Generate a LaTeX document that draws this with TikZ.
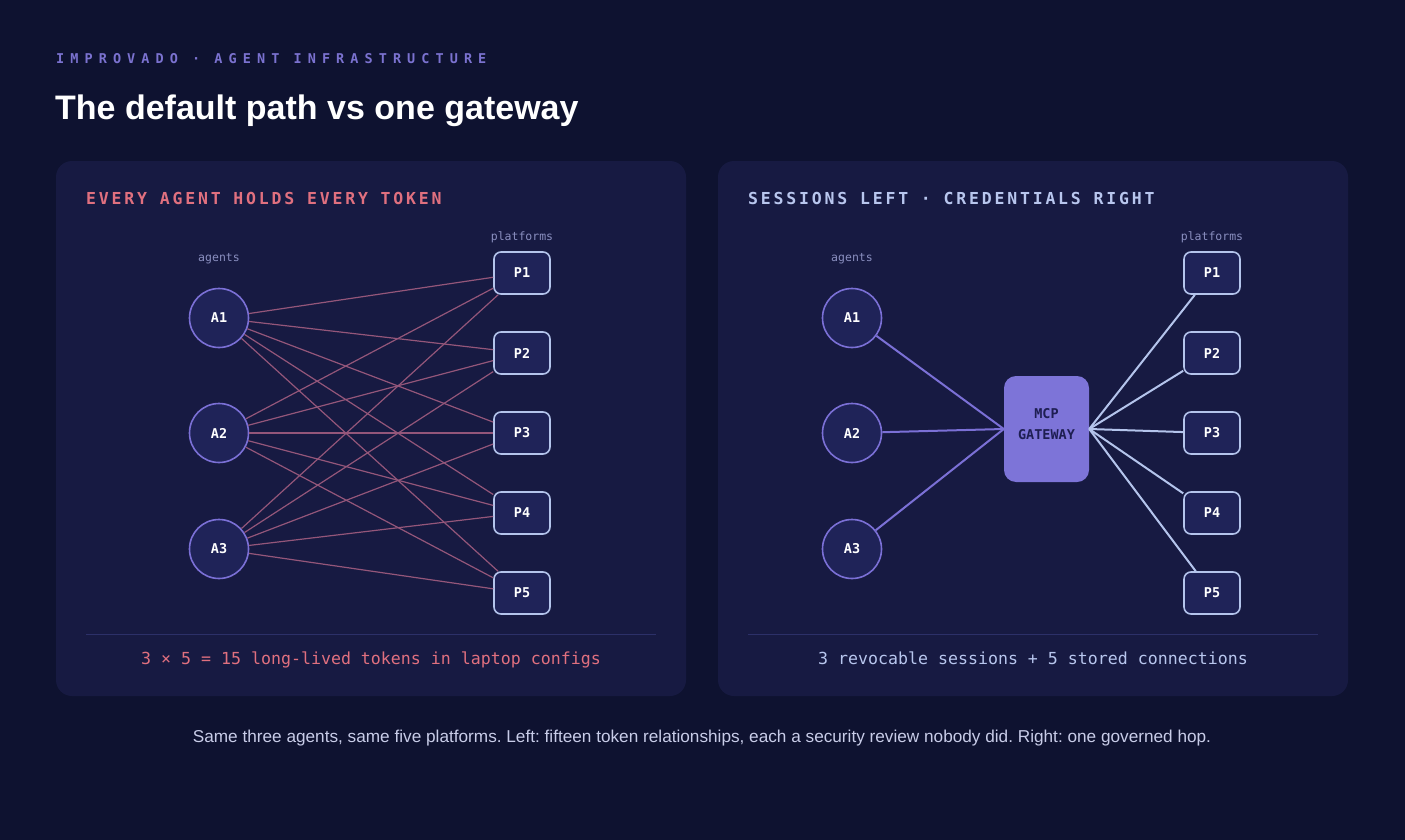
\documentclass[tikz,border=0pt]{standalone}
\usepackage{fontspec}
\setmainfont{Liberation Sans}
\newfontfamily\monofont{DejaVu Sans Mono}
\newfontfamily\headfont[LetterSpace=45]{DejaVu Sans Mono}
\newfontfamily\panelfont[LetterSpace=17]{DejaVu Sans Mono}

\definecolor{pagebg}{HTML}{0E1230}
\definecolor{panelbg}{HTML}{171A42}
\definecolor{nodefill}{HTML}{1F2358}
\definecolor{agentline}{HTML}{7B70D6}
\definecolor{boxline}{HTML}{B4C4EC}
\definecolor{tokenline}{HTML}{94567A}
\definecolor{warnpink}{HTML}{E0707F}
\definecolor{paleblue}{HTML}{B8C6EE}
\definecolor{headpurple}{HTML}{7B72D0}
\definecolor{smallgray}{HTML}{8A8FC0}
\definecolor{sepline}{HTML}{2C3068}
\definecolor{gatefill}{HTML}{7D74D8}
\definecolor{gatetext}{HTML}{1E1E52}
\definecolor{captext}{HTML}{C8CCE8}

\begin{document}
\frenchspacing
\begin{tikzpicture}[x=1pt,y=-1pt]
	\tikzstyle{agent}=[circle, draw=agentline, fill=nodefill, line width=1.6pt, minimum size=59pt, inner sep=0pt, text=white, font=\monofont\bfseries\fontsize{13.5}{16}\selectfont]
	\tikzstyle{platform}=[rectangle, rounded corners=7pt, draw=boxline, fill=nodefill, line width=1.6pt, minimum width=56pt, minimum height=42pt, inner sep=0pt, text=white, font=\monofont\bfseries\fontsize{13.5}{16}\selectfont]
	\tikzstyle{small}=[text=smallgray, font=\monofont\fontsize{11.5}{14}\selectfont]
	\tikzstyle{token}=[draw=tokenline, line width=1.2pt]
	\tikzstyle{session}=[draw=agentline, line width=2pt]
	\tikzstyle{stored}=[draw=boxline, line width=2pt]
	\useasboundingbox (0,0) rectangle (1405,840);
	\fill[pagebg] (0,0) rectangle (1405,840);
	% headings
	\node (kicker) [anchor=base west, inner sep=0pt, text=headpurple, font=\headfont\bfseries\fontsize{13.5}{16}\selectfont] at (56,64) {IMPROVADO · AGENT INFRASTRUCTURE};
	\node (title) [anchor=base west, inner sep=0pt, text=white, font=\bfseries\fontsize{34}{40}\selectfont] at (55,120) {The default path vs one gateway};
	% panels
	\fill[panelbg, rounded corners=16pt] (56,161) rectangle (686,696);
	\fill[panelbg, rounded corners=16pt] (718,161) rectangle (1348,696);
	\draw[sepline, line width=1pt] (86,634) -- (656,634);
	\draw[sepline, line width=1pt] (748,634) -- (1318,634);
	\node (lefthead) [anchor=base west, inner sep=0pt, text=warnpink, font=\panelfont\bfseries\fontsize{16.5}{20}\selectfont] at (86,204) {EVERY AGENT HOLDS EVERY TOKEN};
	\node (righthead) [anchor=base west, inner sep=0pt, text=paleblue, font=\panelfont\bfseries\fontsize{16.5}{20}\selectfont] at (748,204) {SESSIONS LEFT · CREDENTIALS RIGHT};

	% left: every agent holds every token
	\node (lagents) [small, anchor=base] at (219,261) {agents};
	\node (lplatforms) [small, anchor=base] at (522,240) {platforms};
	\draw (219,318) node (la1) [agent] {A1};
	\draw (219,433) node (la2) [agent] {A2};
	\draw (219,549) node (la3) [agent] {A3};
	\draw (522,273) node (lp1) [platform] {P1};
	\draw (522,353) node (lp2) [platform] {P2};
	\draw (522,433) node (lp3) [platform] {P3};
	\draw (522,513) node (lp4) [platform] {P4};
	\draw (522,593) node (lp5) [platform] {P5};
	\draw[token] (la1) -- (lp1);
	\draw[token] (la1) -- (lp2);
	\draw[token] (la1) -- (lp3);
	\draw[token] (la1) -- (lp4);
	\draw[token] (la1) -- (lp5);
	\draw[token] (la2) -- (lp1);
	\draw[token] (la2) -- (lp2);
	\draw[token] (la2) -- (lp3);
	\draw[token] (la2) -- (lp4);
	\draw[token] (la2) -- (lp5);
	\draw[token] (la3) -- (lp1);
	\draw[token] (la3) -- (lp2);
	\draw[token] (la3) -- (lp3);
	\draw[token] (la3) -- (lp4);
	\draw[token] (la3) -- (lp5);
	\node (lfoot) [anchor=base, inner sep=0pt, text=warnpink, font=\monofont\fontsize{16.6}{20}\selectfont] at (371,664) {3 × 5 = 15 long-lived tokens in laptop configs};

	% right: one gateway
	\node (ragents) [small, anchor=base] at (852,261) {agents};
	\node (rplatforms) [small, anchor=base] at (1212,240) {platforms};
	\draw (852,318) node (ra1) [agent] {A1};
	\draw (852,433) node (ra2) [agent] {A2};
	\draw (852,549) node (ra3) [agent] {A3};
	\draw (1212,273) node (rp1) [platform] {P1};
	\draw (1212,353) node (rp2) [platform] {P2};
	\draw (1212,433) node (rp3) [platform] {P3};
	\draw (1212,513) node (rp4) [platform] {P4};
	\draw (1212,593) node (rp5) [platform] {P5};
	\draw (1046.5,429) node (gw) [rectangle, rounded corners=12pt, fill=gatefill, minimum width=85pt, minimum height=106pt, inner sep=0pt] {};
	\node (gwlabel) [align=center, inner sep=0pt, text=gatetext, font=\monofont\bfseries\fontsize{13.5}{21}\selectfont] at (1046.5,424.5) {MCP\\GATEWAY};
	\draw[session] (gw.west) -- (ra1);
	\draw[session] (gw.west) -- (ra2);
	\draw[session] (gw.west) -- (ra3);
	\draw[stored] (gw.east) -- (rp1);
	\draw[stored] (gw.east) -- (rp2);
	\draw[stored] (gw.east) -- (rp3);
	\draw[stored] (gw.east) -- (rp4);
	\draw[stored] (gw.east) -- (rp5);
	\node (rfoot) [anchor=base, inner sep=0pt, text=paleblue, font=\monofont\fontsize{16.6}{20}\selectfont] at (1033,664) {3 revocable sessions + 5 stored connections};

	% caption
	\node (caption) [anchor=base, inner sep=0pt, text=captext, font=\fontsize{17.2}{20}\selectfont] at (702,742) {Same three agents, same five platforms. Left: fifteen token relationships, each a security review nobody did. Right: one governed hop.};
\end{tikzpicture}
\end{document}
